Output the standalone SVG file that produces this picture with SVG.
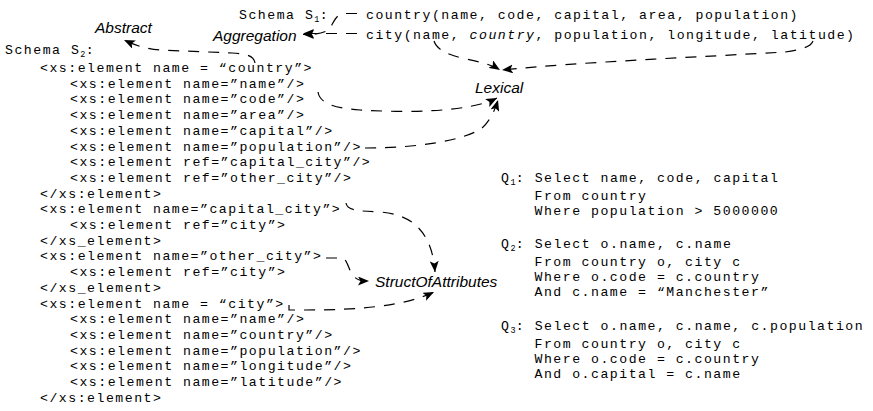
<svg xmlns="http://www.w3.org/2000/svg" width="873" height="411" viewBox="0 0 873 411">
  <defs>
    <style>
      .mono { font-family: "Liberation Mono", "Courier New", monospace; font-size: 13.2px; letter-spacing: 1.5px; fill: #000; }
      .sub { font-size: 8.5px; letter-spacing: 0.3px; }
      .lbl { font-family: "Liberation Sans", Arial, sans-serif; font-style: italic; font-size: 15.5px; fill: #000; }
      .conn { fill: none; stroke: #000; stroke-width: 1.2; stroke-dasharray: 11 9; marker-end: url(#arrow); }
    </style>
    <marker id="arrow" markerUnits="userSpaceOnUse" markerWidth="12" markerHeight="9" refX="11" refY="4.5" orient="auto">
      <path d="M0,0 L11,4.5 L0,9 L2.5,4.5 z" fill="#000"/>
    </marker>
  </defs>
  <rect width="873" height="411" fill="#fff"/>

  <!-- relational schema S1 -->
  <g id="schema-s1" class="mono">
    <text x="239" y="18.5">Schema S<tspan class="sub" dy="3">1</tspan><tspan dy="-3">:</tspan></text>
    <text x="366" y="18.5">country(name, code, capital, area, population)</text>
    <text x="366" y="38.5">city(name, <tspan font-style="italic">country</tspan>, population, longitude, latitude)</text>
  </g>

  <!-- XML schema S2 -->
  <g id="schema-s2" class="mono">
    <text x="5" y="54">Schema S<tspan class="sub" dy="3">2</tspan><tspan dy="-3">:</tspan></text>
    <text x="40" y="72">&lt;xs:element name = “country”&gt;</text>
    <text x="70" y="87.7">&lt;xs:element name=”name”/&gt;</text>
    <text x="70" y="103.4">&lt;xs:element name=”code”/&gt;</text>
    <text x="70" y="119.1">&lt;xs:element name=”area”/&gt;</text>
    <text x="70" y="134.8">&lt;xs:element name=”capital”/&gt;</text>
    <text x="70" y="150.5">&lt;xs:element name=”population”/&gt;</text>
    <text x="70" y="166.2">&lt;xs:element ref=”capital_city”/&gt;</text>
    <text x="70" y="181.9">&lt;xs:element ref=”other_city”/&gt;</text>
    <text x="40" y="197.6">&lt;/xs:element&gt;</text>
    <text x="40" y="213.3">&lt;xs:element name=”capital_city”&gt;</text>
    <text x="70" y="229">&lt;xs:element ref=”city”&gt;</text>
    <text x="40" y="244.7">&lt;/xs_element&gt;</text>
    <text x="40" y="260.4">&lt;xs:element name=”other_city”&gt;</text>
    <text x="70" y="276.1">&lt;xs:element ref=”city”&gt;</text>
    <text x="40" y="291.8">&lt;/xs_element&gt;</text>
    <text x="40" y="307.5">&lt;xs:element name = “city”&gt;</text>
    <text x="70" y="323.2">&lt;xs:element name=”name”/&gt;</text>
    <text x="70" y="338.9">&lt;xs:element name=”country”/&gt;</text>
    <text x="70" y="354.6">&lt;xs:element name=”population”/&gt;</text>
    <text x="70" y="370.3">&lt;xs:element name=”longitude”/&gt;</text>
    <text x="70" y="386">&lt;xs:element name=”latitude”/&gt;</text>
    <text x="40" y="401.7">&lt;/xs:element&gt;</text>
  </g>

  <!-- queries -->
  <g id="query-q1" class="mono">
    <text x="501" y="182">Q<tspan class="sub" dy="3">1</tspan><tspan dy="-3">: Select name, code, capital</tspan></text>
    <text x="534.5" y="200">From country</text>
    <text x="534.5" y="215">Where population &gt; 5000000</text>
  </g>
  <g id="query-q2" class="mono">
    <text x="501" y="248">Q<tspan class="sub" dy="3">2</tspan><tspan dy="-3">: Select o.name, c.name</tspan></text>
    <text x="534.5" y="266">From country o, city c</text>
    <text x="534.5" y="281">Where o.code = c.country</text>
    <text x="534.5" y="296">And c.name = “Manchester”</text>
  </g>
  <g id="query-q3" class="mono">
    <text x="501" y="330">Q<tspan class="sub" dy="3">3</tspan><tspan dy="-3">: Select o.name, c.name, c.population</tspan></text>
    <text x="534.5" y="348">From country o, city c</text>
    <text x="534.5" y="363">Where o.code = c.country</text>
    <text x="534.5" y="378">And o.capital = c.name</text>
  </g>

  <!-- heterogeneity labels -->
  <g id="abstract"><text class="lbl" x="95" y="33">Abstract</text></g>
  <g id="aggregation"><text class="lbl" x="213" y="41">Aggregation</text></g>
  <g id="lexical"><text class="lbl" x="475" y="93">Lexical</text></g>
  <g id="struct-of-attributes"><text class="lbl" x="375" y="287">StructOfAttributes</text></g>

  <!-- dashed connectors -->
  <g id="connectors">
    <path class="conn" d="M357,13.5 H344 C336,14 334,22 330,28 C326,33 318,34.5 303,34.5"/>
    <path class="conn" d="M357,33.5 H303"/>
    <path class="conn" d="M255,63 C254,56 248,54 232,53 L160,50 C145,49 135,45 124,40"/>
    <path class="conn" d="M434,41 C437,50 448,55 466,59 C481,62 492,65 500,70"/>
    <path class="conn" d="M813,41 C811,47 800,50 785,52 C700,57 580,62 502,70"/>
    <path class="conn" d="M318,92 C320,104 335,108 360,110 C410,113 470,112 497,98"/>
    <path class="conn" d="M365,148 C420,148 465,140 482,128 C490,121 495,110 498,100"/>
    <path class="conn" d="M346,203 C347,211 360,211 380,212 C410,214 432,230 435,272"/>
    <path class="conn" d="M326,258 H341 C347,258 348,268 352,274 C356,280 360,281 369,281"/>
    <path class="conn" d="M289,305 V310 H305 C360,310 405,306 434,292"/>
  </g>
</svg>
